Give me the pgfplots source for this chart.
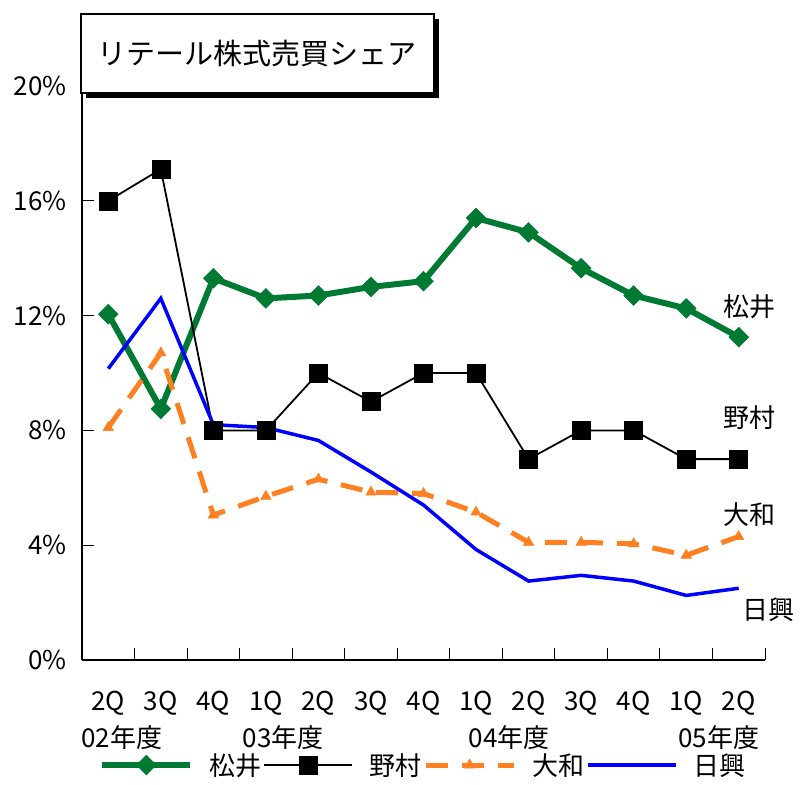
\documentclass[border=0pt]{standalone}
\usepackage{pgfplots}
\pgfplotsset{compat=1.18}
\usepackage{fontspec}
\setmainfont{Noto Sans CJK JP}
\definecolor{matsui}{RGB}{0,122,51}
\definecolor{daiwa}{RGB}{255,128,32}
\definecolor{nikko}{RGB}{0,0,255}
\newcommand{\lbl}{\fontsize{26pt}{28pt}\selectfont}
\begin{document}
\begin{tikzpicture}
\path[use as bounding box] (0,0) rectangle (800pt,-784pt);
\begin{axis}[
  at={(82pt,-660pt)}, anchor=south west,
  scale only axis, width=683pt, height=574pt,
  xmin=0.5, xmax=13.5, ymin=0, ymax=20,
  axis x line=bottom, axis y line=left,
  axis line style={-, line width=1.2pt},
  clip=false,
  /pgf/number format/assume math mode=true,
  tick align=inside, major tick length=12pt,
  tick style={line width=1pt, black},
  xtick={0.5,1.5,...,13.5}, xticklabels={},
  extra x ticks={1,...,13},
  extra x tick labels={2Q,3Q,4Q,1Q,2Q,3Q,4Q,1Q,2Q,3Q,4Q,1Q,2Q},
  extra x tick style={major tick length=0pt, tick style={draw=none},
    xticklabel style={yshift=-8pt}},
  ytick={0,4,...,20},
  yticklabel={\pgfmathprintnumber{\tick}\%},
  tick label style={font=\lbl},
  yticklabel style={xshift=-12pt},
  xticklabel style={yshift=-20pt},
  legend columns=4,
  legend style={at={(0.5,-0.183)}, anchor=center, draw=none, font=\lbl,
    /tikz/every odd column/.append style={column sep=14pt}},
  legend image code/.code={\draw[mark repeat=2,mark phase=2] plot coordinates {(0pt,0pt)(44pt,0pt)(88pt,0pt)};},
]
\addplot[matsui, line width=6pt, mark=square*, mark size=7pt,
  mark options={rotate=45, solid, line width=0.5pt}] coordinates {
  (1,12.05)(2,8.75)(3,13.3)(4,12.6)(5,12.7)(6,13.0)(7,13.2)
  (8,15.4)(9,14.9)(10,13.65)(11,12.7)(12,12.25)(13,11.25)};
\addlegendentry{松井}
\addplot[black, line width=1.8pt, mark=square*, mark size=9pt,
  mark options={solid, line width=0.5pt}] coordinates {
  (1,16)(2,17.1)(3,8)(4,8)(5,10)(6,9)(7,10)
  (8,10)(9,7)(10,8)(11,8)(12,7)(13,7)};
\addlegendentry{野村}
\addplot[daiwa, line width=5pt, dash pattern=on 22pt off 14pt, mark=triangle*, mark size=6pt,
  mark options={solid, line width=0.5pt}] coordinates {
  (1,8.1)(2,10.7)(3,5.05)(4,5.7)(5,6.3)(6,5.85)(7,5.8)
  (8,5.15)(9,4.1)(10,4.1)(11,4.05)(12,3.65)(13,4.3)};
\addlegendentry{大和}
\addplot[nikko, line width=3.5pt] coordinates {
  (1,10.15)(2,12.6)(3,8.2)(4,8.1)(5,7.65)(6,6.55)(7,5.4)
  (8,3.85)(9,2.75)(10,2.95)(11,2.75)(12,2.25)(13,2.5)};
\addlegendentry{日興}
\node[font=\lbl] at (axis cs:1.26,0) [yshift=-78pt] {02年度};
\node[font=\lbl] at (axis cs:4.33,0) [yshift=-78pt] {03年度};
\node[font=\lbl] at (axis cs:8.63,0) [yshift=-78pt] {04年度};
\node[font=\lbl] at (axis cs:12.62,0) [yshift=-78pt] {05年度};
\end{axis}
\node[font=\lbl, anchor=west, inner sep=0pt] at (723pt,-307pt) {松井};
\node[font=\lbl, anchor=west, inner sep=0pt] at (723pt,-418pt) {野村};
\node[font=\lbl, anchor=west, inner sep=0pt] at (723pt,-515pt) {大和};
\node[font=\lbl, anchor=west, inner sep=0pt] at (742pt,-610pt) {日興};
\fill[black] (86pt,-19pt) rectangle (439pt,-98pt);
\node[draw=black, line width=1.8pt, fill=white, anchor=north west,
  minimum width=353pt, minimum height=79pt, inner sep=0pt,
  font=\fontsize{29pt}{31pt}\selectfont] at (80pt,-13pt) {リテール株式売買シェア};
\end{tikzpicture}
\end{document}
